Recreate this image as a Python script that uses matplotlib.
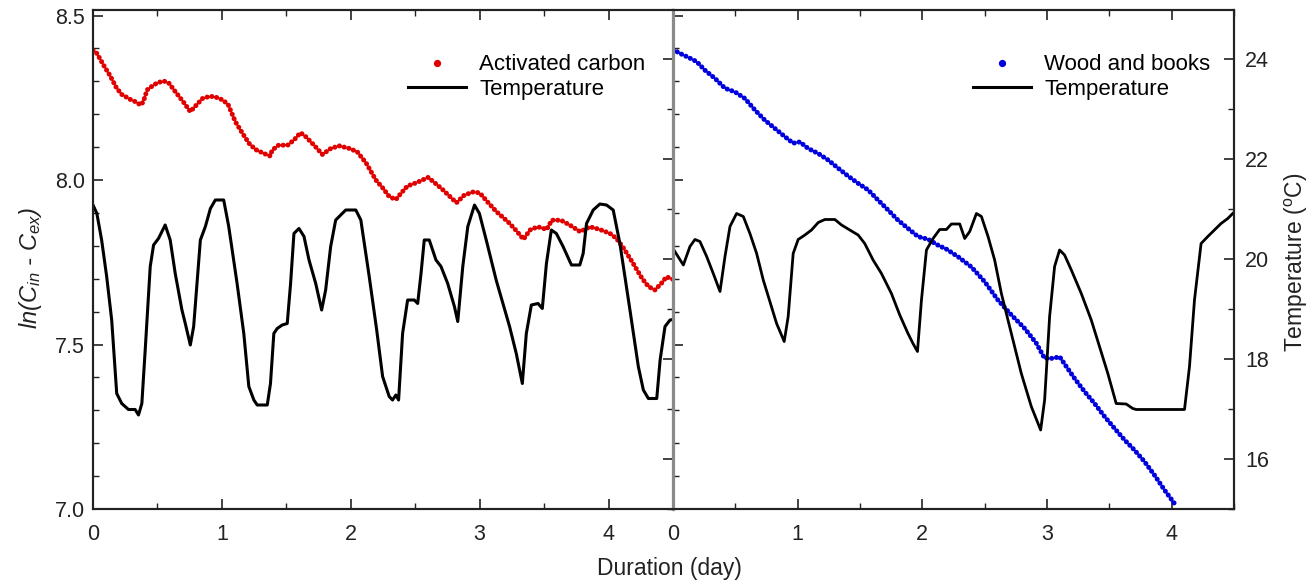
import matplotlib
matplotlib.use("Agg")
import matplotlib.pyplot as plt
from matplotlib.lines import Line2D
from matplotlib.ticker import MultipleLocator

plt.rcParams['font.family'] = ['Liberation Sans', 'DejaVu Sans']
plt.rcParams['mathtext.fontset'] = 'custom'
plt.rcParams['mathtext.rm'] = 'Liberation Sans'
plt.rcParams['mathtext.it'] = 'Liberation Sans:italic'

# ---------------- data ----------------
# Activated carbon: ln(Cin - Cex) vs day
ac_day = [0.00, 0.03, 0.09, 0.13, 0.18, 0.22, 0.29, 0.33, 0.37, 0.39, 0.42, 0.46, 0.50, 0.55,
          0.59, 0.64, 0.70, 0.755, 0.79, 0.85, 0.91, 0.96, 1.01, 1.05, 1.105, 1.16, 1.21, 1.26,
          1.325, 1.375, 1.39, 1.44, 1.51, 1.56, 1.61, 1.65, 1.715, 1.78, 1.845, 1.91, 1.99, 2.05,
          2.12, 2.195, 2.25, 2.30, 2.35, 2.39, 2.44, 2.51, 2.60, 2.65, 2.71, 2.82, 2.88, 2.95,
          3.00, 3.06, 3.13, 3.22, 3.28, 3.34, 3.39, 3.45, 3.52, 3.56, 3.63, 3.70, 3.78, 3.855,
          3.93, 4.01, 4.06, 4.11, 4.19, 4.26, 4.31, 4.36, 4.41, 4.45, 4.50]
ac_ln = [8.395, 8.385, 8.344, 8.319, 8.282, 8.261, 8.245, 8.238, 8.228, 8.238, 8.274, 8.286, 8.296, 8.301,
         8.294, 8.268, 8.238, 8.208, 8.223, 8.248, 8.255, 8.251, 8.243, 8.228, 8.177, 8.142, 8.112, 8.093,
         8.081, 8.073, 8.091, 8.106, 8.106, 8.122, 8.144, 8.132, 8.106, 8.078, 8.096, 8.104, 8.096, 8.086,
         8.051, 8.000, 7.975, 7.949, 7.941, 7.960, 7.982, 7.992, 8.008, 7.992, 7.972, 7.931, 7.954, 7.964,
         7.961, 7.934, 7.904, 7.873, 7.848, 7.820, 7.848, 7.858, 7.850, 7.878, 7.878, 7.863, 7.843, 7.858,
         7.850, 7.838, 7.823, 7.797, 7.747, 7.701, 7.676, 7.666, 7.686, 7.706, 7.698]

# Temperature during the activated carbon test (deg C)
act_day = [0.00, 0.03, 0.067, 0.106, 0.145, 0.184, 0.223, 0.275, 0.327, 0.353, 0.379, 0.405, 0.444,
           0.470, 0.508, 0.560, 0.599, 0.638, 0.690, 0.716, 0.755, 0.781, 0.833, 0.872, 0.911, 0.949,
           1.014, 1.053, 1.118, 1.170, 1.209, 1.248, 1.274, 1.352, 1.377, 1.403, 1.429, 1.468, 1.507,
           1.533, 1.559, 1.598, 1.637, 1.676, 1.728, 1.774, 1.805, 1.844, 1.883, 1.922, 1.961, 2.039,
           2.078, 2.143, 2.200, 2.247, 2.298, 2.324, 2.350, 2.371, 2.402, 2.441, 2.493, 2.519, 2.545,
           2.570, 2.609, 2.661, 2.700, 2.752, 2.804, 2.830, 2.869, 2.908, 2.960, 2.998, 3.051, 3.128,
           3.232, 3.284, 3.331, 3.362, 3.401, 3.453, 3.486, 3.518, 3.556, 3.595, 3.647, 3.712, 3.777,
           3.803, 3.829, 3.881, 3.933, 3.984, 4.036, 4.088, 4.166, 4.231, 4.270, 4.309, 4.374, 4.400,
           4.438, 4.477, 4.500]
act_temp = [21.08, 20.91, 20.38, 19.65, 18.78, 17.31, 17.11, 16.99, 16.99, 16.88, 17.11, 18.18, 19.85,
            20.28, 20.41, 20.68, 20.38, 19.71, 18.98, 18.71, 18.28, 18.65, 20.38, 20.65, 21.01, 21.18,
            21.18, 20.65, 19.51, 18.51, 17.45, 17.18, 17.08, 17.08, 17.51, 18.51, 18.61, 18.68, 18.71,
            19.51, 20.51, 20.61, 20.45, 19.98, 19.51, 18.98, 19.38, 20.25, 20.78, 20.88, 20.98, 20.98,
            20.78, 19.65, 18.60, 17.65, 17.25, 17.18, 17.28, 17.18, 18.51, 19.18, 19.18, 19.11, 19.71,
            20.38, 20.38, 19.98, 19.85, 19.51, 19.05, 18.75, 19.85, 20.65, 21.08, 20.91, 20.38, 19.58,
            18.65, 18.11, 17.51, 18.51, 19.08, 19.11, 19.01, 19.91, 20.58, 20.51, 20.25, 19.88, 19.88,
            20.11, 20.71, 20.98, 21.10, 21.08, 20.98, 20.31, 18.98, 17.85, 17.38, 17.21, 17.21, 17.98,
            18.65, 18.78, 18.79]

# Wood and books: ln(Cin - Cex) vs day
wb_day = [0.00, 0.056, 0.123, 0.190, 0.256, 0.337, 0.417, 0.497, 0.577, 0.657, 0.737, 0.817, 0.897,
          0.964, 1.018, 1.084, 1.164, 1.244, 1.325, 1.405, 1.485, 1.565, 1.645, 1.725, 1.805, 1.885,
          1.966, 2.046, 2.126, 2.193, 2.286, 2.393, 2.500, 2.607, 2.714, 2.821, 2.914, 2.981, 3.047,
          3.101, 3.155, 3.221, 3.301, 3.381, 3.462, 3.542, 3.622, 3.702, 3.782, 3.862, 3.942, 4.022]
wb_ln = [8.397, 8.385, 8.373, 8.360, 8.334, 8.309, 8.279, 8.268, 8.248, 8.213, 8.182, 8.157, 8.132,
         8.112, 8.116, 8.096, 8.081, 8.061, 8.036, 8.012, 7.990, 7.970, 7.939, 7.909, 7.878, 7.853,
         7.828, 7.820, 7.802, 7.790, 7.767, 7.736, 7.691, 7.635, 7.590, 7.549, 7.504, 7.458, 7.458,
         7.463, 7.433, 7.397, 7.357, 7.321, 7.281, 7.245, 7.210, 7.179, 7.144, 7.103, 7.058, 7.017]

# Temperature during the wood and books test (deg C)
wbt_day = [0.00, 0.04, 0.083, 0.136, 0.176, 0.216, 0.27, 0.323, 0.377, 0.417, 0.457, 0.510, 0.564,
           0.617, 0.671, 0.724, 0.777, 0.831, 0.892, 0.924, 0.964, 1.004, 1.058, 1.111, 1.165, 1.218,
           1.298, 1.352, 1.418, 1.485, 1.538, 1.605, 1.672, 1.752, 1.819, 1.885, 1.925, 1.961, 1.993,
           2.033, 2.086, 2.139, 2.193, 2.233, 2.300, 2.340, 2.380, 2.434, 2.474, 2.527, 2.580, 2.634,
           2.714, 2.794, 2.874, 2.949, 2.981, 3.021, 3.061, 3.101, 3.141, 3.195, 3.275, 3.355, 3.421,
           3.488, 3.555, 3.635, 3.688, 3.715, 3.916, 4.103, 4.143, 4.183, 4.236, 4.290, 4.343, 4.396,
           4.450, 4.490]
wbt_temp = [20.21, 20.05, 19.88, 20.25, 20.39, 20.35, 20.05, 19.71, 19.35, 20.05, 20.65, 20.91, 20.85,
            20.51, 20.11, 19.58, 19.15, 18.71, 18.35, 18.85, 20.11, 20.39, 20.48, 20.58, 20.73, 20.79,
            20.79, 20.68, 20.58, 20.48, 20.31, 19.98, 19.71, 19.31, 18.88, 18.51, 18.31, 18.15, 19.18,
            20.18, 20.41, 20.59, 20.59, 20.70, 20.70, 20.41, 20.55, 20.91, 20.85, 20.45, 19.98, 19.31,
            18.51, 17.71, 17.05, 16.58, 17.18, 18.85, 19.85, 20.18, 20.08, 19.78, 19.31, 18.78, 18.25,
            17.71, 17.11, 17.10, 17.01, 16.99, 16.99, 16.99, 17.85, 19.18, 20.31, 20.45, 20.58, 20.71,
            20.81, 20.91]

x_ticks = [0, 1, 2, 3, 4]
ln_ticks = [7.0, 7.5, 8.0, 8.5]
temp_ticks = [16, 18, 20, 22, 24]

# ---------------- figure ----------------
W, H = 1314, 583
fig = plt.figure(figsize=(W / 100, H / 100), dpi=100)

top_px, bot_px = 10, 509
ax1 = fig.add_axes([93 / W, 1 - bot_px / H, 580 / W, (bot_px - top_px) / H])
ax2 = fig.add_axes([673 / W, 1 - bot_px / H, 561 / W, (bot_px - top_px) / H])
t1 = ax1.twinx()
t2 = ax2.twinx()

ln_lim = (7.0, 8.517)
t_lim = (15.0, 24.98)
spine_col = '#222222'
mid_col = '#8a8a8a'

def dotted(ax, x, y, color):
    ax.plot(x, y, color=color, lw=3.6, linestyle=(0, (0.02, 0.95)),
            dash_capstyle='round', solid_capstyle='round')

dotted(ax1, ac_day, ac_ln, '#e00000')
t1.plot(act_day, act_temp, color='black', lw=2.2)
dotted(ax2, wb_day, wb_ln, '#0000dd')
t2.plot(wbt_day, wbt_temp, color='black', lw=2.0)

for ax in (ax1, ax2):
    ax.set_xlim(0, 4.5)
    ax.set_ylim(*ln_lim)
    ax.set_xticks(x_ticks)
    ax.xaxis.set_minor_locator(MultipleLocator(0.5))
    ax.set_yticks(ln_ticks)
    ax.yaxis.set_minor_locator(MultipleLocator(0.1))
    ax.tick_params(which='both', direction='in', top=True, labelsize=15.5, colors=spine_col)
    ax.tick_params(which='major', length=7, width=1.2)
    ax.tick_params(which='minor', length=4, width=1.0)
    ax.tick_params(axis='x', pad=11, labelcolor='#222222')
    ax.tick_params(axis='y', pad=6, labelcolor='#222222')
    for s in ax.spines.values():
        s.set_linewidth(1.5)
        s.set_color(spine_col)

for t in (t1, t2):
    t.set_ylim(*t_lim)
    t.set_yticks(temp_ticks)
    t.yaxis.set_minor_locator(MultipleLocator(1))
    t.tick_params(which='both', direction='in', labelsize=15.5, colors=spine_col)
    t.tick_params(which='major', length=7, width=1.2)
    t.tick_params(which='minor', length=4, width=1.0)
    t.tick_params(axis='y', pad=8, labelcolor='#222222')
    for s in t.spines.values():
        s.set_linewidth(1.5)
        s.set_color(spine_col)

ax2.tick_params(axis='y', labelleft=False)
t1.tick_params(axis='y', labelright=False)
# shared middle boundary drawn in grey
for a, side in ((ax1, 'right'), (t1, 'right'), (ax2, 'left'), (t2, 'left')):
    a.spines[side].set_color(mid_col)
    a.spines[side].set_linewidth(2.2)

# legends
h_ac = Line2D([], [], color='#e00000', marker='o', ls='none', ms=4.2)
h_wb = Line2D([], [], color='#0000dd', marker='o', ls='none', ms=4.2)
h_t = Line2D([], [], color='black', lw=2.2)
t1.legend([h_ac, h_t], ['Activated carbon', 'Temperature'], loc='upper right',
          bbox_to_anchor=(0.968, 0.929), frameon=False, fontsize=16, handlelength=2.6,
          handletextpad=0.6, labelspacing=0.15, borderaxespad=0)
t2.legend([h_wb, h_t], ['Wood and books', 'Temperature'], loc='upper right',
          bbox_to_anchor=(0.974, 0.929), frameon=False, fontsize=16, handlelength=2.6,
          handletextpad=0.6, labelspacing=0.15, borderaxespad=0)

# axis titles
fig.text(30 / W, 1 - 268 / H, 'ln(C$_{in}$ - C$_{ex}$)', rotation=90, ha='center', va='center',
         fontsize=17, style='italic', color='#222222')
fig.text(1296 / W, 1 - 262 / H, 'Temperature ($^{\\rm o}$C)', rotation=90, ha='center', va='center',
         fontsize=16.5, color='#222222')
fig.text(669 / W, 1 - 568 / H, 'Duration (day)', ha='center', va='center', fontsize=16.5,
         color='#222222')

fig.savefig('out.png', dpi=100)
